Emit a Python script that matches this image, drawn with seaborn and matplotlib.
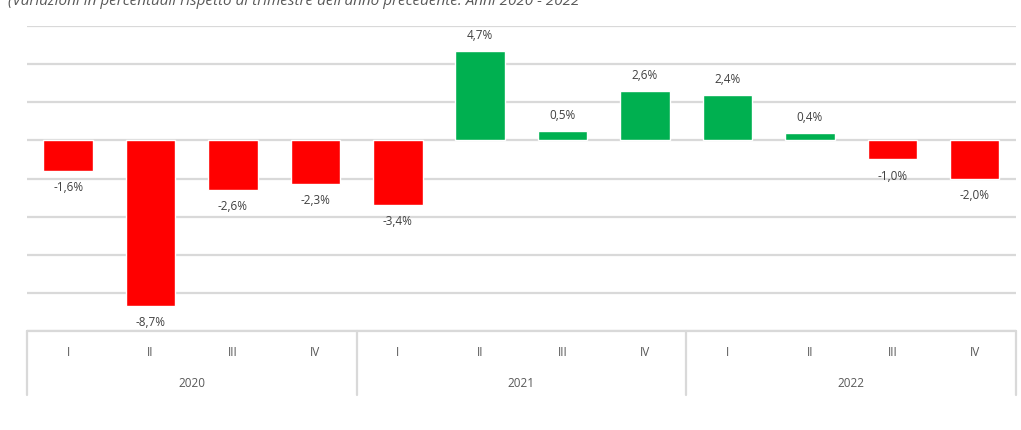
import matplotlib
matplotlib.use("Agg")
import matplotlib.pyplot as plt
import matplotlib.transforms as mtransforms
import seaborn as sns
import pandas as pd

# --- dati (variazioni % sul trimestre dell'anno precedente) ---
anni = ["2020", "2021", "2022"]
trimestri = ["I", "II", "III", "IV"]
valori = [-1.6, -8.7, -2.6, -2.3, -3.4, 4.7, 0.5, 2.6, 2.4, 0.4, -1.0, -2.0]
titolo = "(Variazioni in percentuali rispetto al trimestre dell'anno precedente. Anni 2020 - 2022"

chiavi = [f"{a}-{t}" for a in anni for t in trimestri]
df = pd.DataFrame({"periodo": chiavi, "valore": valori})
df["segno"] = ["pos" if v >= 0 else "neg" for v in valori]

sns.set_theme(style="white")
plt.rcParams["font.family"] = ["Open Sans", "DejaVu Sans"]

fig = plt.figure(figsize=(10.21, 4.30), dpi=100)
ax = fig.add_axes([0.0264, 0.2302, 0.9686, 0.7093])

sns.barplot(data=df, x="periodo", y="valore", hue="segno", order=chiavi,
            palette={"pos": "#00b050", "neg": "#ff0000"}, dodge=False,
            width=0.6, legend=False, saturation=1, ax=ax)

ax.set_ylim(-10, 6)
ax.set_xlim(-0.5, len(chiavi) - 0.5)
ax.set_yticks(range(-10, 7, 2))
ax.yaxis.grid(True, color="#d9d9d9", linewidth=1.6)
ax.set_axisbelow(True)
for s in ax.spines.values():
    s.set_visible(False)
ax.set_yticklabels([])
ax.tick_params(left=False, bottom=False)
ax.set_xticklabels([])
ax.set_xlabel("")
ax.set_ylabel("")

# etichette dei valori
for i, v in enumerate(valori):
    testo = f"{v:.1f}%".replace(".", ",")
    off = 11 if v >= 0 else -12
    ax.annotate(testo, (i, v), xytext=(0, off), textcoords="offset points",
                ha="center", va="center", fontsize=8.5, color="#404040")

# asse categorie a due livelli
trans = mtransforms.blended_transform_factory(ax.transData, ax.transAxes)
basso = -64 / 305
ax.plot([-0.5, 11.5], [0, 0], transform=trans, color="#d9d9d9", lw=1.6, clip_on=False)
for xs in [-0.5, 3.5, 7.5, 11.5]:
    ax.plot([xs, xs], [0, basso], transform=trans, color="#d9d9d9", lw=1.6, clip_on=False)
for i, k in enumerate(chiavi):
    ax.text(i, -21 / 305, k.split("-")[1], transform=trans, ha="center", va="center",
            fontsize=8.5, color="#595959")
for j, a in enumerate(anni):
    ax.text(j * 4 + 1.5, -52 / 305, a, transform=trans, ha="center", va="center",
            fontsize=8.5, color="#595959")

fig.text(0.008, 1 - 5 / 430, titolo, ha="left", va="baseline", fontsize=11,
         style="italic", color="#595959")

fig.savefig("out.png", dpi=100)
